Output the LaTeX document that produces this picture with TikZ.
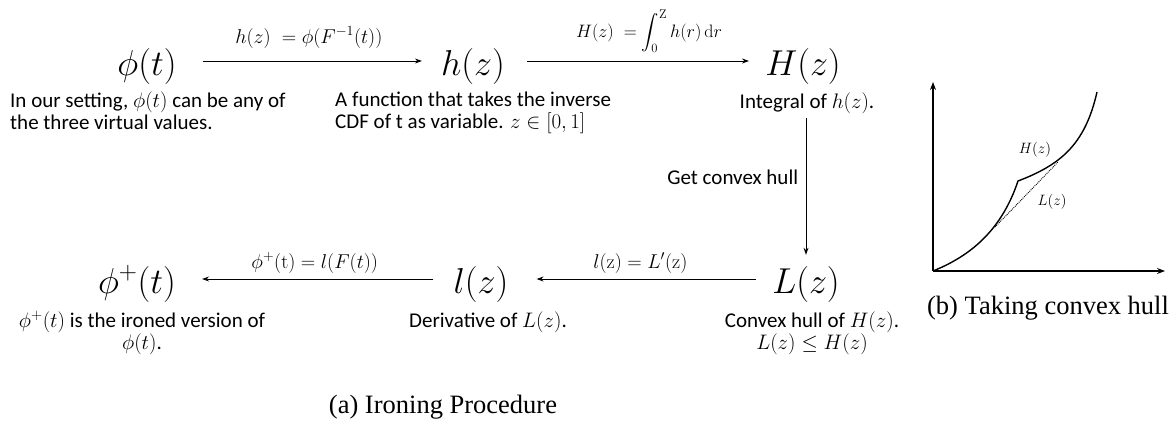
\RequirePackage{fix-cm}
\documentclass[tikz,border=0pt]{standalone}
\usepackage{amsmath}
\usepackage[no-math]{fontspec}
\setmainfont{Carlito}
\newfontfamily\capfont{Liberation Serif}
\usetikzlibrary{arrows.meta,positioning,calc}

\begin{document}
\begin{tikzpicture}[
  x=1pt, y=-1pt,
  big/.style={font=\fontsize{36}{40}\selectfont, text height=36pt, text depth=8pt, inner xsep=16pt, inner ysep=2pt},
  desc/.style={font=\fontsize{21}{22}\selectfont, inner sep=0pt},
  lbl/.style={font=\fontsize{20}{22}\selectfont, anchor=base},
  arrow/.style={-{Stealth[length=7pt,width=5pt]}, line width=1pt},
  axis/.style={-{Stealth[length=8pt,width=6pt]}, line width=1.1pt},
  caption/.style={font=\capfont\fontsize{26.5}{30}\selectfont}
]
\useasboundingbox (0,0) rectangle (1176,424);

% (a) the chain of functions
\node[big] (phi) at (147,61) {$\phi(t)$};
\node[big] (hz) at (473,61) {$h(z)$};
\node[big] (Hz) at (803,61) {$H(z)$};
\node[big] (Lz) at (806,279) {$L(z)$};
\node[big] (lz) at (481,279) {$l(z)$};
\node[big] (phip) at (137,279) {$\phi^{+}(t)$};

\node[desc, anchor=north west, align=left] (phidesc) at (10,92)
  {In our setting, $\phi(t)$ can be any of\\the three virtual values.};
\node[desc, anchor=north west, align=left] (hdesc) at (335,92)
  {A function that takes the inverse\\CDF of t as variable. $z\in[0,1]$};
\node[desc, below=7pt of Hz, xshift=4pt] (intg) {Integral of $h(z)$.};
\node[desc, below=8pt of Lz, xshift=6pt, align=center] (Ldesc)
  {Convex hull of $H(z)$.\\$L(z)\le H(z)$};
\node[desc, below=8pt of lz, xshift=7pt] (lzdesc) {Derivative of $L(z)$.};
\node[desc, below=8pt of phip, xshift=5pt, align=center] (phipdesc)
  {$\phi^{+}(t)$ is the ironed version of\\$\phi(t)$.};

\draw[arrow, shorten <=10pt, shorten >=3pt] (phi) -- node[lbl, yshift=18pt] {$h(z)\;=\phi(F^{-1}(t))$} (hz);
\draw[arrow, shorten <=6pt] (hz) -- node[lbl, yshift=24pt, xshift=14pt, font=\fontsize{18}{20}\selectfont]
  {$H(z)\;=\displaystyle\int_0^{\mathrm{Z}} h(r)\,\mathrm{d}r$} (Hz);
\draw[arrow, shorten <=4pt] (intg.south -| Lz) -- node[left=4pt, pos=0.45,
  font=\fontsize{21}{22}\selectfont] {Get convex hull} (Lz);
\draw[arrow, shorten >=12pt] (Lz) -- node[lbl, yshift=11pt] {$l(\mathrm{z}) = L'(\mathrm{z})$} (lz);
\draw[arrow, shorten <=4pt, shorten >=10pt] (lz) -- node[lbl, yshift=11pt] {$\phi^{+}(\mathrm{t}) = l(F(t))$} (phip);

\node[caption] (capa) at (443,407) {(a) Ironing Procedure};

% (b) convex hull sketch
\coordinate (O) at (933,271);
\draw[axis] (O) -- (933,82);
\draw[axis] (O) -- (1165,271);
\draw[line width=1.4pt] (O) .. controls (965,258) and (1000,235) .. (1018,181)
  .. controls (1060,165) and (1085,145) .. (1097,92);
\draw[densely dotted, line width=0.9pt] (995,227) -- (1058,162);
\node[font=\fontsize{15}{17}\selectfont] (Hlab) at (1035,150) {$H(z)$};
\node[font=\fontsize{15}{17}\selectfont] (Llab) at (1052,202) {$L(z)$};
\node[caption] (capb) at (1048,308) {(b) Taking convex hull};
\end{tikzpicture}
\end{document}
